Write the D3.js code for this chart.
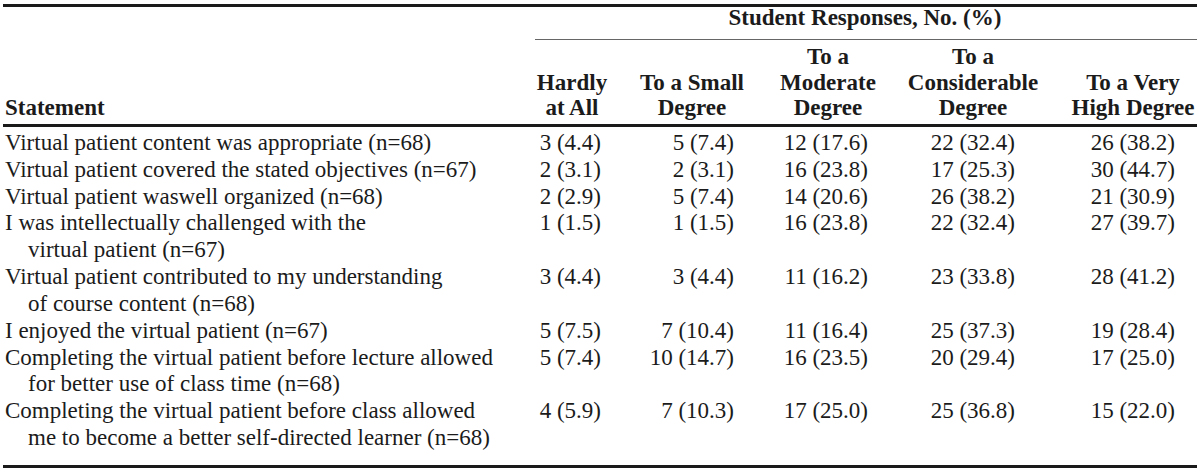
<!DOCTYPE html>
<html><head><meta charset="utf-8">
<script src="https://cdn.jsdelivr.net/npm/d3@7"></script>
<style>html,body{margin:0;padding:0;background:#fff;}</style>
</head><body>
<svg id="chart" width="1200" height="473"></svg>
<script>
// ---- data ----
const groupTitle = "Student Responses, No. (%)";
const stubTitle = "Statement";
const columnHeaders = [
  ["", "Hardly", "at All"],
  ["", "To a Small", "Degree"],
  ["To a", "Moderate", "Degree"],
  ["To a", "Considerable", "Degree"],
  ["", "To a Very", "High Degree"]
];
const statements = [
  ["Virtual patient content was appropriate (n=68)"],
  ["Virtual patient covered the stated objectives (n=67)"],
  ["Virtual patient waswell organized (n=68)"],
  ["I was intellectually challenged with the", "virtual patient (n=67)"],
  ["Virtual patient contributed to my understanding", "of course content (n=68)"],
  ["I enjoyed the virtual patient (n=67)"],
  ["Completing the virtual patient before lecture allowed", "for better use of class time (n=68)"],
  ["Completing the virtual patient before class allowed", "me to become a better self-directed learner (n=68)"]
];
const hardlyN   = [3, 2, 2, 1, 3, 5, 5, 4];
const hardlyPct = [4.4, 3.1, 2.9, 1.5, 4.4, 7.5, 7.4, 5.9];
const smallN    = [5, 2, 5, 1, 3, 7, 10, 7];
const smallPct  = [7.4, 3.1, 7.4, 1.5, 4.4, 10.4, 14.7, 10.3];
const moderateN   = [12, 16, 14, 16, 11, 11, 16, 17];
const moderatePct = [17.6, 23.8, 20.6, 23.8, 16.2, 16.4, 23.5, 25.0];
const considerableN   = [22, 17, 26, 22, 23, 25, 20, 25];
const considerablePct = [32.4, 25.3, 38.2, 32.4, 33.8, 37.3, 29.4, 36.8];
const veryHighN   = [26, 30, 21, 27, 28, 19, 17, 15];
const veryHighPct = [38.2, 44.7, 30.9, 39.7, 41.2, 28.4, 25.0, 22.0];

// ---- layout ----
const svg = d3.select("#chart");
const ink = "#1b1b1b";
const font = "'Liberation Serif','Times New Roman',serif";
const fs = 23;

const series = [
  [hardlyN, hardlyPct], [smallN, smallPct], [moderateN, moderatePct],
  [considerableN, considerablePct], [veryHighN, veryHighPct]
];
const colRight = [601, 734, 868, 1015, 1175];
const colCenter = [572, 692, 828, 973, 1133];

const rowStart = [];
let li = 0;
statements.forEach(s => { rowStart.push(li); li += s.length; });
const totalLines = li;
const y = d3.scaleLinear().domain([0, totalLines - 1]).range([150, 445]);

const rule = (x1, x2, yy, w, c) => svg.append("line")
  .attr("x1", x1).attr("x2", x2).attr("y1", yy).attr("y2", yy)
  .attr("stroke", c).attr("stroke-width", w);
rule(3, 1197, 5.5, 3, "#1a1a1a");
rule(535, 1197, 39.5, 1, "#666");
rule(3, 1197, 125.5, 3, "#1a1a1a");
rule(3, 1197, 466.5, 3, "#1a1a1a");

const hy = d3.scaleLinear().domain([0, 2]).range([64, 115]);
svg.append("text").attr("x", 865).attr("y", 25)
  .attr("text-anchor", "middle").attr("font-family", font).attr("font-size", fs)
  .attr("font-weight", "bold").attr("fill", ink).text(groupTitle);
svg.append("text").attr("x", 5).attr("y", hy(2))
  .attr("font-family", font).attr("font-size", fs)
  .attr("font-weight", "bold").attr("fill", ink).text(stubTitle);

columnHeaders.forEach((lines, c) => {
  lines.forEach((t, k) => {
    if (!t) return;
    svg.append("text").attr("x", colCenter[c]).attr("y", hy(k))
      .attr("text-anchor", "middle").attr("font-family", font).attr("font-size", fs)
      .attr("font-weight", "bold").attr("fill", ink).text(t);
  });
});

const fmt = d3.format(".1f");
statements.forEach((lines, r) => {
  lines.forEach((t, k) => {
    svg.append("text").attr("x", k === 0 ? 5 : 28).attr("y", y(rowStart[r] + k))
      .attr("font-family", font).attr("font-size", fs).attr("fill", ink).text(t);
  });
  series.forEach(([n, p], c) => {
    svg.append("text").attr("x", colRight[c]).attr("y", y(rowStart[r]))
      .attr("text-anchor", "end").attr("font-family", font).attr("font-size", fs)
      .attr("fill", ink).text(`${n[r]} (${fmt(p[r])})`);
  });
});
</script>
</body></html>
